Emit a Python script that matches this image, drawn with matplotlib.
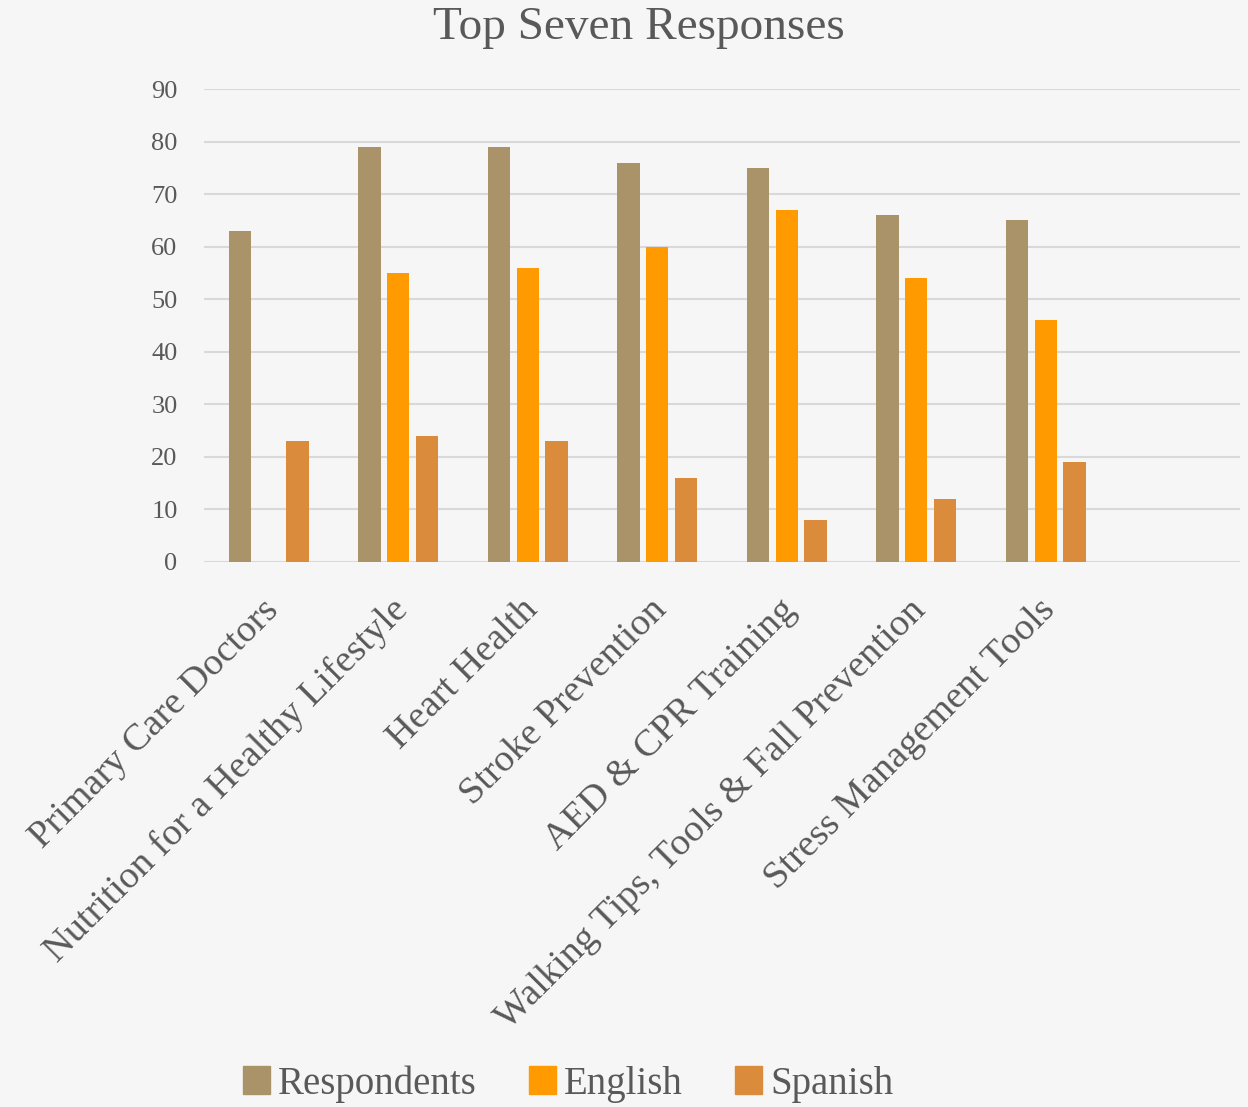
import numpy as np
import matplotlib
matplotlib.use('Agg')
import matplotlib.pyplot as plt
from matplotlib.patches import Patch

# data
categories = ['Primary Care Doctors', 'Nutrition for a Healthy Lifestyle', 'Heart Health',
              'Stroke Prevention', 'AED & CPR Training', 'Walking Tips, Tools & Fall Prevention',
              'Stress Management Tools', '']
respondents = [63, 79, 79, 76, 75, 66, 65, 0]
english = [0, 55, 56, 60, 67, 54, 46, 0]
spanish = [23, 24, 23, 16, 8, 12, 19, 0]
series_names = ['Respondents', 'English', 'Spanish']
colors = ['#AB9369', '#FF9A00', '#DB8B3C']

plt.rcParams['font.family'] = ['Liberation Serif', 'DejaVu Serif']
text_col = '#595959'

fig = plt.figure(figsize=(12.48, 11.07), dpi=100)
fig.patch.set_facecolor('#F6F6F6')
ax = fig.add_axes([204/1248, 1-562/1107, (1240-204)/1248, (562-89)/1107])
ax.set_facecolor('none')

x = np.arange(len(categories))
step = 0.222
width = 0.17
for i, (vals, name, c) in enumerate(zip([respondents, english, spanish], series_names, colors)):
    ax.bar(x + (i-1)*step, vals, width, color=c, label=name, zorder=3)

ax.set_xlim(-0.5, len(categories)-0.5)
ax.set_ylim(0, 90)
ax.set_yticks(range(0, 91, 10))
ax.yaxis.grid(True, color='#D9D9D9', linewidth=1.5, zorder=0)
for s in ax.spines.values():
    s.set_visible(False)
ax.tick_params(axis='both', length=0, colors=text_col)
ax.tick_params(axis='y', labelsize=19, pad=19)
ax.set_xticks(x - 0.06)
ax.set_xticklabels(categories, rotation=45, ha='right', va='top', rotation_mode='anchor',
                   fontsize=27.5, color=text_col)
ax.tick_params(axis='x', pad=22)

fig.text(0.512, 0.975, 'Top Seven Responses', ha='center', va='center', fontsize=34, color=text_col)

handles = [Patch(color=c) for c in colors]
fig.legend(handles, series_names, loc='center', bbox_to_anchor=(0.455, 0.021), ncol=3,
           frameon=False, fontsize=28, labelcolor=text_col, handlelength=0.7, handleheight=0.7,
           handletextpad=0.2, columnspacing=1.35)

fig.savefig('out.png', dpi=100, facecolor=fig.get_facecolor())
